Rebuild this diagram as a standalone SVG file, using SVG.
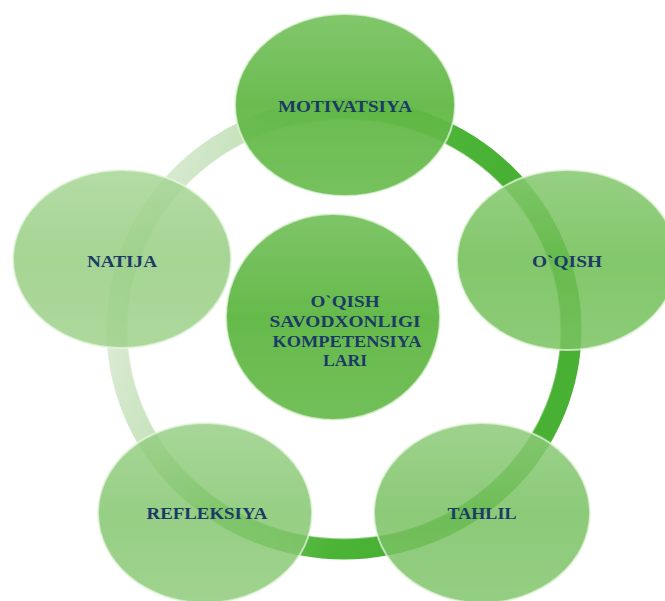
<svg xmlns="http://www.w3.org/2000/svg" width="665" height="601" viewBox="0 0 665 601">
<defs>
<linearGradient id="ringG" gradientUnits="userSpaceOnUse" x1="130" y1="160" x2="470" y2="260">
<stop offset="0" stop-color="#e2efdd"/>
<stop offset="0.3" stop-color="#c6e2bb"/>
<stop offset="0.6" stop-color="#72c15b"/>
<stop offset="0.85" stop-color="#4cb437"/>
<stop offset="1" stop-color="#48b032"/>
</linearGradient>
<linearGradient id="gloss" x1="0" y1="0" x2="0" y2="1">
<stop offset="0" stop-color="#ffffff" stop-opacity="0.16"/>
<stop offset="0.5" stop-color="#ffffff" stop-opacity="0"/>
<stop offset="1" stop-color="#ffffff" stop-opacity="0.08"/>
</linearGradient>
</defs>
<style>
.node{stroke:#e9f6e3;stroke-opacity:0.7;stroke-width:2}
.gl{fill:url(#gloss);stroke:none}
.lbl{font-family:"Liberation Serif","DejaVu Serif",serif;font-size:17px;font-weight:bold;fill:#1b3a66;text-anchor:middle}
</style>
<rect width="665" height="601" fill="#ffffff"/>
<g id="connectors">
<ellipse cx="344" cy="329" rx="227" ry="220" fill="none" stroke="url(#ringG)" stroke-width="21"/>
<ellipse cx="344" cy="329" rx="217" ry="210" fill="none" stroke="#ffffff" stroke-opacity="0.35" stroke-width="1"/>
</g>
<g id="center">
<ellipse class="node" cx="333" cy="317" rx="107" ry="103" fill="#66ba4b"/>
<ellipse class="gl" cx="333" cy="317" rx="107" ry="103"/>
<text class="lbl" x="345" y="307" textLength="69" lengthAdjust="spacingAndGlyphs">O`QISH</text>
<text class="lbl" x="345" y="327" textLength="151" lengthAdjust="spacingAndGlyphs">SAVODXONLIGI</text>
<text class="lbl" x="347" y="347" textLength="149" lengthAdjust="spacingAndGlyphs">KOMPETENSIYA</text>
<text class="lbl" x="345" y="366" textLength="44" lengthAdjust="spacingAndGlyphs">LARI</text>
</g>
<g id="motivatsiya">
<ellipse class="node" cx="345" cy="105" rx="110" ry="91" fill="#5fb743" fill-opacity="0.93"/>
<ellipse class="gl" cx="345" cy="105" rx="110" ry="91"/>
<text class="lbl" x="345" y="112" textLength="134" lengthAdjust="spacingAndGlyphs">MOTIVATSIYA</text>
</g>
<g id="oqish">
<ellipse class="node" cx="567" cy="260" rx="110" ry="90" fill="#6dbd52" fill-opacity="0.85"/>
<ellipse class="gl" cx="567" cy="260" rx="110" ry="90"/>
<text class="lbl" x="567" y="267" textLength="70" lengthAdjust="spacingAndGlyphs">O`QISH</text>
</g>
<g id="natija">
<ellipse class="node" cx="122" cy="259" rx="109" ry="89" fill="#93cc7d" fill-opacity="0.82"/>
<ellipse class="gl" cx="122" cy="259" rx="109" ry="89"/>
<text class="lbl" x="122" y="267" textLength="70" lengthAdjust="spacingAndGlyphs">NATIJA</text>
</g>
<g id="refleksiya">
<ellipse class="node" cx="205" cy="513" rx="107" ry="90" fill="#80c56a" fill-opacity="0.82"/>
<ellipse class="gl" cx="205" cy="513" rx="107" ry="90"/>
<text class="lbl" x="207" y="519" textLength="121" lengthAdjust="spacingAndGlyphs">REFLEKSIYA</text>
</g>
<g id="tahlil">
<ellipse class="node" cx="482" cy="513" rx="108" ry="90" fill="#76c05e" fill-opacity="0.84"/>
<ellipse class="gl" cx="482" cy="513" rx="108" ry="90"/>
<text class="lbl" x="482" y="519" textLength="69" lengthAdjust="spacingAndGlyphs">TAHLIL</text>
</g>
</svg>
